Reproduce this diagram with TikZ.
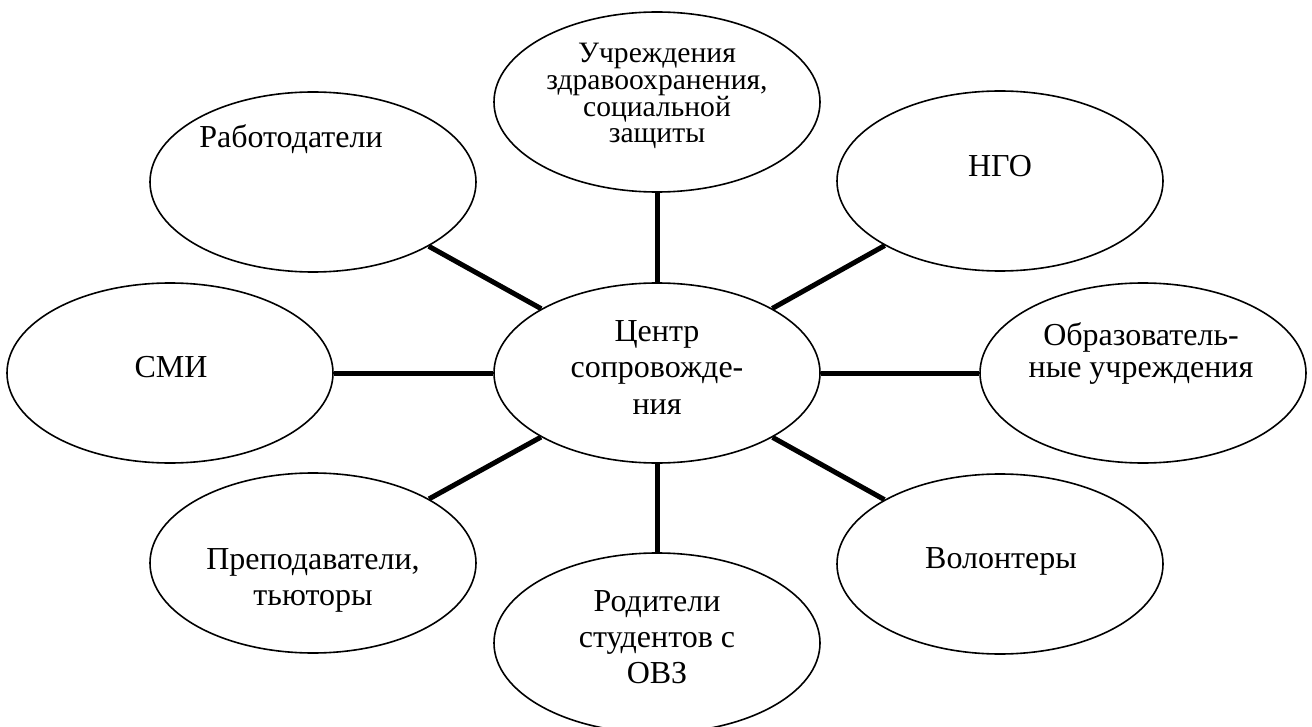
\documentclass[tikz,border=0pt]{standalone}
\usepackage{fontspec}
\setmainfont{Liberation Serif}
\usetikzlibrary{shapes.geometric}
\begin{document}
\begin{tikzpicture}[x=0.5pt,y=-0.5pt,
  oval/.style={draw, ellipse, line width=0.8pt, minimum width=163pt, minimum height=90pt, inner sep=0pt},
  link/.style={line width=2.5pt},
  lbl/.style={anchor=base, align=center, inner sep=0pt, font=\fontsize{16}{18}\selectfont},
  lblsmall/.style={lbl, font=\fontsize{14.8}{13.4}\selectfont},
  lbltight/.style={lbl, font=\fontsize{16}{16}\selectfont}]
\useasboundingbox (0,0) rectangle (1312,727);
\clip (0,0) rectangle (1312,727);
% ellipses
\node[oval] (cent) at (657,373) {};
\node[oval] (uchr) at (657,102) {};
\node[oval] (rab)  at (313,182) {};
\node[oval] (ngo)  at (1000,181) {};
\node[oval] (smi)  at (170,373) {};
\node[oval] (obr)  at (1143,373) {};
\node[oval] (prep) at (313,563) {};
\node[oval] (vol)  at (1000,564) {};
\node[oval] (rod)  at (657,643) {};
% texts (anchor = baseline of the last line)
\node[lbl] (tcent) at (657,414) {Центр\\сопровожде-\\ния};
\node[lblsmall] (tuchr) at (657,143) {Учреждения\\здравоохранения,\\социальной\\защиты};
\node[lbl] (trab) at (291,148) {Работодатели};
\node[lbl] (tngo) at (1000,177) {НГО};
\node[lbl] (tsmi) at (171,377) {СМИ};
\node[lbltight] (tobr) at (1141,377) {Образователь-\\ные учреждения};
\node[lbl] (tprep) at (313,605) {Преподаватели,\\тьюторы};
\node[lbl] (tvol) at (1001,568) {Волонтеры};
\node[lbl] (trod) at (657,683) {Родители\\студентов с\\ОВЗ};
% connectors
\draw[link] (cent) -- (uchr);
\draw[link] (cent) -- (rab);
\draw[link] (cent) -- (ngo);
\draw[link] (cent) -- (smi);
\draw[link] (cent) -- (obr);
\draw[link] (cent) -- (prep);
\draw[link] (cent) -- (vol);
\draw[link] (cent) -- (rod);
\end{tikzpicture}
\end{document}
